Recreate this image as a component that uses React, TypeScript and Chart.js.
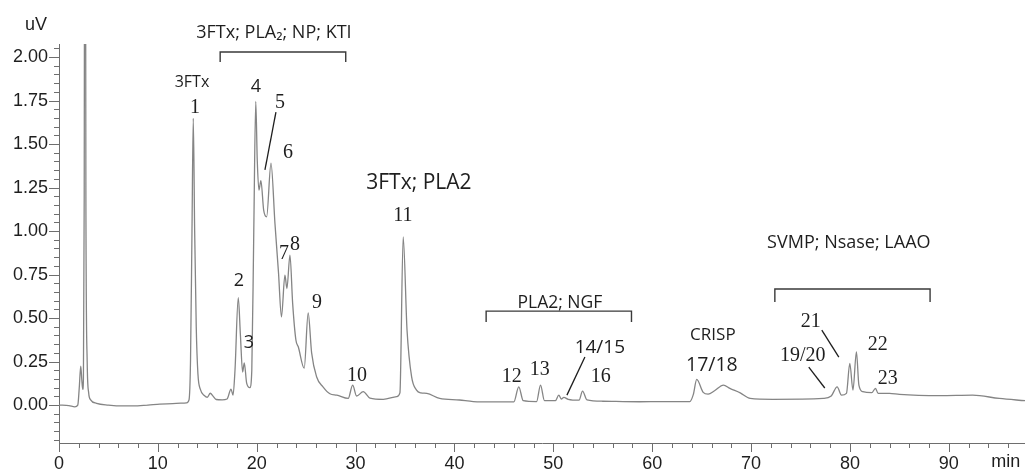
import React, { useEffect, useRef } from 'react';
import { Chart, registerables } from 'chart.js';

Chart.register(...registerables);

// Retention time (min) and detector signal (uV)
const retentionTimes = [
  0, 1.0, 1.6, 1.9, 2.05, 2.2, 2.3, 2.4, 2.47, 2.55, 2.63, 2.72, 2.85, 3.0, 3.2, 3.8, 5.0, 6.5, 7.5, 9.0,
  10.2, 11.5, 12.9, 13.15, 13.3, 13.45, 13.58, 13.72, 13.88, 14.05, 14.3, 14.7, 15.0, 15.3, 15.6, 15.9,
  16.5, 17.0, 17.4, 17.6, 17.8, 18.13, 18.35, 18.57, 18.74, 18.98, 19.3, 19.5, 19.7, 19.9, 20.05, 20.22,
  20.42, 20.7, 21.0, 21.44, 21.84, 22.2, 22.5, 22.85, 23.05, 23.36, 23.63, 23.96, 24.2, 24.8, 25.2, 25.55,
  26.05, 26.7, 27.4, 28.1, 29.25, 29.7, 30.1, 30.77, 31.45, 32.8, 34.15, 34.48, 34.81, 35.2, 35.66, 36.16,
  36.6, 37.2, 38.5, 40.5, 41.9, 44, 46.0, 46.5, 46.95, 48.3, 48.7, 49.1, 50.2, 50.55, 50.8, 51.06, 51.5,
  52.6, 52.95, 53.4, 55, 58.7, 61, 63.8, 64.15, 64.5, 65.15, 65.65, 66.3, 67.2, 67.85, 68.9, 69.9, 72.2,
  77.3, 78.1, 78.7, 79.14, 79.64, 79.98, 80.3, 80.65, 80.9, 81.3, 82.2, 82.58, 82.84, 84, 85, 89.1, 92.4,
  95.1, 97.7,
];
const signal = [
  0, -0.003, -0.01, 0.0, 0.1, 0.224, 0.15, 0.09, 0.15, 1.2, 5.0, 1.2, 0.25, 0.07, 0.03, 0.01, 0.0, -0.005, -0.005, 0.0,
  0.005, 0.008, 0.013, 0.03, 0.25, 1.0, 1.648, 1.0, 0.45, 0.18, 0.09, 0.055, 0.045, 0.068, 0.05, 0.032,
  0.03, 0.035, 0.092, 0.057, 0.2, 0.617, 0.4, 0.19, 0.243, 0.126, 0.1, 0.2, 1.0, 1.745, 1.41, 1.236,
  1.29, 1.12, 1.082, 1.39, 1.045, 0.76, 0.507, 0.747, 0.67, 0.862, 0.586, 0.374, 0.335, 0.212, 0.529, 0.3,
  0.163, 0.105, 0.065, 0.057, 0.038, 0.115, 0.052, 0.077, 0.04, 0.033, 0.048, 0.07, 0.967, 0.43, 0.163, 0.086,
  0.07, 0.067, 0.038, 0.029, 0.02, 0.018, 0.018, 0.105, 0.025, 0.02, 0.115, 0.025, 0.025, 0.057, 0.035, 0.044, 0.033,
  0.028, 0.08, 0.03, 0.022, 0.019, 0.02, 0.02, 0.06, 0.148, 0.073, 0.063, 0.082, 0.115, 0.096, 0.07, 0.038, 0.033,
  0.038, 0.052, 0.105, 0.057, 0.067, 0.24, 0.086, 0.306, 0.115, 0.077, 0.071, 0.096, 0.067, 0.067, 0.061, 0.054, 0.057,
  0.038, 0.025,
];

// Peak annotations: [text, time, signal, font family kind, size]
const peakLabels: [string, number, number, string, number][] = [
  ['3FTx', 13.45, 1.856, 'sans', 16],
  ['1', 13.75, 1.707, 'serif', 20],
  ['2', 18.2, 0.713, 'sans', 18],
  ['3', 19.21, 0.356, 'sans', 18],
  ['4', 19.92, 1.828, 'sans', 18],
  ['5', 22.35, 1.736, 'serif', 20],
  ['6', 23.15, 1.448, 'serif', 20],
  ['7', 22.75, 0.868, 'serif', 20],
  ['8', 23.86, 0.92, 'serif', 20],
  ['9', 26.09, 0.586, 'serif', 20],
  ['10', 30.13, 0.167, 'serif', 20],
  ['11', 34.78, 1.086, 'serif', 20],
  ['3FTx; PLA2', 36.4, 1.276, 'sans', 21],
  ['3FTx; PLA\u2082; NP; KTI', 21.74, 2.138, 'sans', 18],
  ['PLA2; NGF', 50.66, 0.586, 'sans', 17.5],
  ['12', 45.8, 0.161, 'serif', 20],
  ['13', 48.63, 0.201, 'serif', 20],
  ['14/15', 54.7, 0.328, 'sans', 19],
  ['16', 54.8, 0.161, 'serif', 20],
  ['CRISP', 66.13, 0.402, 'sans', 17],
  ['17/18', 66.03, 0.23, 'sans', 19.5],
  ['SVMP; Nsase; LAAO', 79.88, 0.931, 'sans', 18],
  ['21', 76.04, 0.477, 'serif', 20],
  ['19/20', 75.23, 0.282, 'serif', 20],
  ['22', 82.81, 0.345, 'serif', 20],
  ['23', 83.82, 0.149, 'serif', 20],
];

// Leader lines: [t1, s1, t2, s2]
const leaderLines: [number, number, number, number][] = [
  [21.94, 1.684, 20.83, 1.351],
  [53.19, 0.276, 51.37, 0.057],
  [77.15, 0.431, 78.87, 0.276],
  [75.83, 0.218, 77.45, 0.098],
];

// Brackets: [tStart, tEnd, top, legBottom]
const brackets: [number, number, number, number][] = [
  [16.3, 29.0, 2.029, 1.971],
  [43.2, 57.9, 0.54, 0.477],
  [72.4, 88.1, 0.667, 0.592],
];

const X_MIN = 0;
const X_MAX = 97.7;
const Y_MIN = -0.218;
const Y_MAX = 2.075;

const AXIS_COLOR = '#6e6e6e';
const TEXT_COLOR = '#1e1e1e';
const LINE_COLOR = '#858585';

const overlayPlugin = {
  id: 'overlay',
  afterDraw(chart: any) {
    const { ctx, chartArea, scales } = chart;
    const xs = scales.x;
    const ys = scales.y;
    ctx.save();
    ctx.strokeStyle = AXIS_COLOR;
    ctx.lineWidth = 1;
    // x ticks every 2 min, longer every 10
    for (let i = 0; i * 2 <= X_MAX; i++) {
      const v = i * 2;
      const px = Math.round(xs.getPixelForValue(v)) + 0.5;
      const len = v % 10 === 0 ? 9 : 5;
      ctx.beginPath();
      ctx.moveTo(px, chartArea.bottom);
      ctx.lineTo(px, chartArea.bottom + len);
      ctx.stroke();
    }
    // y ticks every 0.05, longer every 0.25
    for (let i = -4; i <= 41; i++) {
      const v = i * 0.05;
      if (v < Y_MIN || v > Y_MAX) continue;
      const py = Math.round(ys.getPixelForValue(v)) + 0.5;
      const len = i % 5 === 0 ? 10 : 5;
      ctx.beginPath();
      ctx.moveTo(chartArea.left, py);
      ctx.lineTo(chartArea.left - len, py);
      ctx.stroke();
    }
    // brackets
    ctx.strokeStyle = '#3a3a3a';
    ctx.lineWidth = 1.4;
    for (const [a, b, top, bot] of brackets) {
      const x1 = xs.getPixelForValue(a);
      const x2 = xs.getPixelForValue(b);
      const y1 = ys.getPixelForValue(top);
      const y2 = ys.getPixelForValue(bot);
      ctx.beginPath();
      ctx.moveTo(x1, y2);
      ctx.lineTo(x1, y1);
      ctx.lineTo(x2, y1);
      ctx.lineTo(x2, y2);
      ctx.stroke();
    }
    // leader lines
    ctx.strokeStyle = '#1e1e1e';
    ctx.lineWidth = 1.3;
    for (const [a, b, c, d] of leaderLines) {
      ctx.beginPath();
      ctx.moveTo(xs.getPixelForValue(a), ys.getPixelForValue(b));
      ctx.lineTo(xs.getPixelForValue(c), ys.getPixelForValue(d));
      ctx.stroke();
    }
    // labels
    ctx.fillStyle = TEXT_COLOR;
    ctx.textAlign = 'center';
    ctx.textBaseline = 'middle';
    for (const [text, t, s, kind, size] of peakLabels) {
      ctx.font = kind === 'serif' ? `${size}px "Liberation Serif"` : `${size}px "Open Sans"`;
      ctx.fillText(text, xs.getPixelForValue(t), ys.getPixelForValue(s));
    }
    // axis units
    ctx.font = '18px "Liberation Sans"';
    ctx.fillText('uV', chartArea.left - 23, chartArea.top - 19);
    ctx.fillText('min', xs.getPixelForValue(95.75), chartArea.bottom + 19);
    ctx.restore();
  },
};

export default function App() {
  const canvasRef = useRef<HTMLCanvasElement | null>(null);

  useEffect(() => {
    if (!canvasRef.current) return;
    const points = retentionTimes.map((t, i) => ({ x: t, y: signal[i] }));
    const chart = new Chart(canvasRef.current, {
      type: 'line',
      data: {
        datasets: [
          {
            data: points,
            borderColor: LINE_COLOR,
            borderWidth: 1.3,
            pointRadius: 0,
            fill: false,
            cubicInterpolationMode: 'monotone',
          },
        ],
      },
      options: {
        animation: false,
        responsive: false,
        devicePixelRatio: 1,
        layout: { padding: { top: 44, left: 0, right: 0, bottom: 0 } },
        plugins: {
          legend: { display: false },
          tooltip: { enabled: false },
        },
        scales: {
          x: {
            type: 'linear',
            min: X_MIN,
            max: X_MAX,
            grid: { display: false, drawTicks: false },
            border: { display: true, color: AXIS_COLOR, width: 1 },
            ticks: {
              stepSize: 10,
              includeBounds: false,
              padding: 10,
              color: TEXT_COLOR,
              font: { family: '"Liberation Sans"', size: 18 },
              maxRotation: 0,
            },
            afterFit(scale: any) {
              scale.height = 31;
            },
          },
          y: {
            type: 'linear',
            min: Y_MIN,
            max: Y_MAX,
            grid: { display: false, drawTicks: false },
            border: { display: true, color: AXIS_COLOR, width: 1 },
            ticks: {
              stepSize: 0.25,
              includeBounds: false,
              padding: 11,
              color: TEXT_COLOR,
              font: { family: '"Liberation Sans"', size: 18 },
              callback: (v: any) => Number(v).toFixed(2),
            },
            afterFit(scale: any) {
              scale.width = 59;
            },
          },
        },
      },
      plugins: [overlayPlugin],
    });
    return () => chart.destroy();
  }, []);

  return (
    <div style={{ position: 'fixed', left: 0, top: 0, width: 1025, height: 474, background: '#fff' }}>
      <canvas ref={canvasRef} width={1025} height={474} style={{ width: 1025, height: 474, display: 'block' }} />
    </div>
  );
}
